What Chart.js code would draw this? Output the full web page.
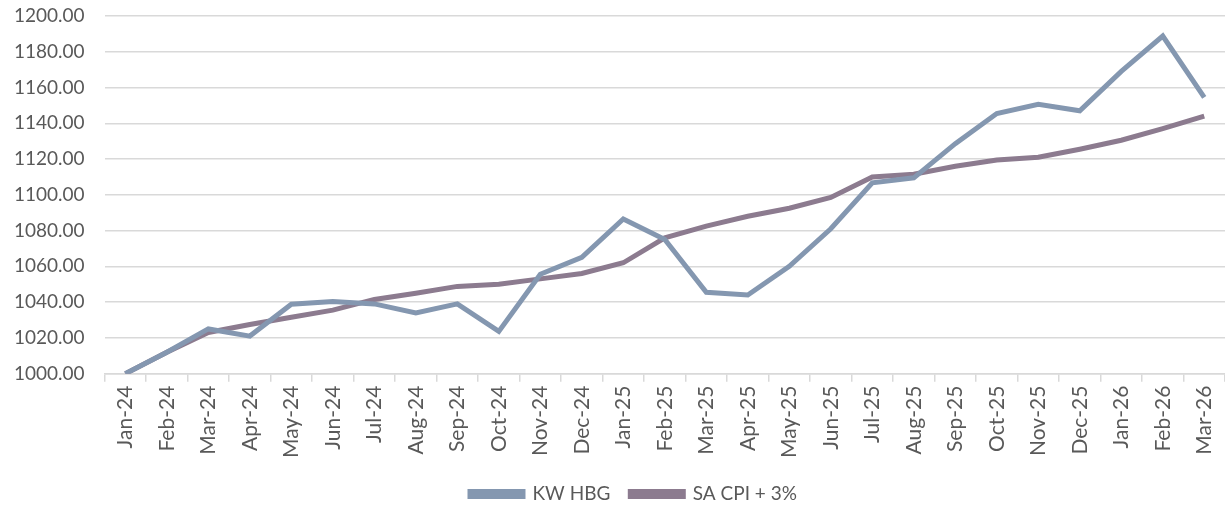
<!DOCTYPE html>
<html>
<head>
<meta charset="utf-8">
<script src="https://cdn.jsdelivr.net/npm/chart.js@4"></script>
<style>
  html, body { margin: 0; padding: 0; background: #fff; }
  #wrap { width: 1225px; height: 505px; }
</style>
</head>
<body>
<div id="wrap"><canvas id="lineChart"></canvas></div>
<script>
const months = ['Jan-24','Feb-24','Mar-24','Apr-24','May-24','Jun-24','Jul-24','Aug-24','Sep-24','Oct-24','Nov-24','Dec-24',
  'Jan-25','Feb-25','Mar-25','Apr-25','May-25','Jun-25','Jul-25','Aug-25','Sep-25','Oct-25','Nov-25','Dec-25',
  'Jan-26','Feb-26','Mar-26'];

const kwHbg = [1000, 1012, 1025, 1021, 1038.8, 1040.4, 1039, 1034, 1039, 1023.6, 1055.6, 1065,
  1086.5, 1075, 1045.5, 1044, 1060, 1081, 1106.7, 1109.5, 1128.6, 1145.5, 1150.6, 1147,
  1169, 1188.8, 1154.5];

const saCpi = [1000, 1012, 1023, 1027.5, 1031.5, 1035.5, 1041.5, 1045, 1048.8, 1050, 1053, 1056,
  1062, 1076, 1082.5, 1088, 1092.5, 1098.5, 1110, 1111.5, 1116, 1119.5, 1121, 1125.5,
  1130.5, 1137, 1144];

const fontFamily = "Lato, 'Open Sans', sans-serif";
const textColor = '#595959';

// legend sits lower and a bit right of where Chart.js would put it
const moveLegend = {
    id: 'moveLegend',
    afterLayout(chart) {
        const lg = chart.legend;
        const h = lg.height;
        lg.top = 489 - h / 2;
        lg.bottom = lg.top + h;
        lg.left += 24;
        lg.right += 24;
    }
};

const ctx = document.getElementById('lineChart');
new Chart(ctx, {
    type: 'line',
    data: {
        labels: months,
        datasets: [{
            label: 'KW HBG',
            data: kwHbg,
            borderColor: '#8497b0',
            backgroundColor: '#8497b0',
            borderWidth: 5,
            pointRadius: 0,
            tension: 0
        }, {
            label: 'SA CPI + 3%',
            data: saCpi,
            borderColor: '#8c7b8f',
            backgroundColor: '#8c7b8f',
            borderWidth: 5,
            pointRadius: 0,
            tension: 0
        }]
    },
    plugins: [moveLegend],
    options: {
        responsive: true,
        maintainAspectRatio: false,
        animation: false,
        layout: { padding: { left: -6, right: 0, top: 0, bottom: 0 } },
        plugins: {
            tooltip: { enabled: false },
            legend: {
                position: 'bottom',
                labels: {
                    boxWidth: 53,
                    boxHeight: 5,
                    padding: 20,
                    color: textColor,
                    font: { family: fontFamily, size: 19 }
                }
            }
        },
        scales: {
            x: {
                offset: true,
                grid: {
                    offset: true,
                    drawOnChartArea: false,
                    drawTicks: true,
                    tickLength: 8,
                    color: '#d9d9d9',
                    lineWidth: 1.5
                },
                border: { color: '#d9d9d9', width: 1.5 },
                ticks: {
                    maxRotation: 90,
                    minRotation: 90,
                    autoSkip: false,
                    color: textColor,
                    padding: 4,
                    font: { family: fontFamily, size: 21 }
                },
                afterFit: scale => {
                    scale.paddingLeft = 0;
                    scale.paddingRight = 0;
                    scale.height -= 6;
                }
            },
            y: {
                min: 1000,
                max: 1200,
                grid: {
                    color: '#d9d9d9',
                    lineWidth: 1.5,
                    drawTicks: false
                },
                border: { display: false },
                ticks: {
                    stepSize: 20,
                    padding: 20,
                    color: textColor,
                    font: { family: fontFamily, size: 19 },
                    callback: v => v.toFixed(2)
                },
                afterFit: scale => {
                    scale.paddingTop = 16;
                }
            }
        }
    }
});
</script>
</body>
</html>
